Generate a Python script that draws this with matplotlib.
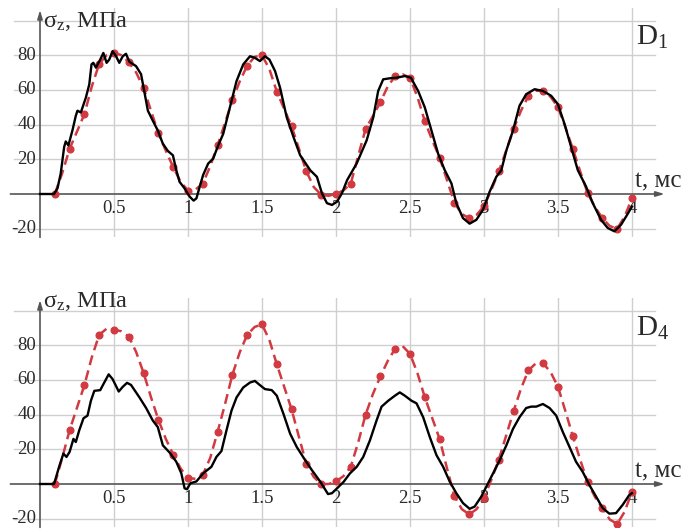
import matplotlib
matplotlib.use('Agg')
import matplotlib.pyplot as plt

plt.rcParams['font.family'] = ['Liberation Serif', 'DejaVu Serif']
plt.rcParams['mathtext.fontset'] = 'custom'
plt.rcParams['mathtext.rm'] = 'Liberation Serif'
plt.rcParams['mathtext.it'] = 'Liberation Serif:italic'

# ---------------- data ----------------
t_red = [0.10, 0.15, 0.20, 0.25, 0.30, 0.35, 0.40, 0.45, 0.50, 0.55,
         0.60, 0.65, 0.70, 0.75, 0.80, 0.85, 0.90, 0.95, 1.00, 1.05,
         1.10, 1.15, 1.20, 1.25, 1.30, 1.35, 1.40, 1.45, 1.50, 1.55,
         1.60, 1.65, 1.70, 1.75, 1.80, 1.85, 1.90, 1.95, 2.00, 2.05,
         2.10, 2.15, 2.20, 2.25, 2.30, 2.35, 2.40, 2.45, 2.50, 2.55,
         2.60, 2.65, 2.70, 2.75, 2.80, 2.85, 2.90, 2.95, 3.00, 3.05,
         3.10, 3.15, 3.20, 3.25, 3.30, 3.35, 3.40, 3.45, 3.50, 3.55,
         3.60, 3.65, 3.70, 3.75, 3.80, 3.85, 3.90, 3.95, 4.00]

red_D1 = [0, 12, 26, 36, 46, 62, 75, 80, 81.5, 80,
          76, 70, 61, 48, 35, 25, 15.5, 7, 2, 2.5,
          6, 16, 28, 41, 54, 65, 74, 79, 80, 72,
          59, 49, 39, 26, 13, 4, -0.5, -1, 0, 2,
          6, 22, 37.5, 45, 53, 62, 68, 69, 67, 56,
          42, 31, 21, 8, -5, -11.5, -14, -12, -7, 2.5,
          13, 25, 37.5, 48, 56.5, 59.5, 59.5, 56, 50, 38.5,
          26, 13, 0.5, -7.5, -14, -18.5, -20, -13, -2.5]

red_D4 = [0, 15, 31, 44, 57, 73, 86, 89.5, 89, 88,
          85, 76, 64, 50, 37, 26, 17, 9, 3.4, 3,
          5.3, 15, 30, 46, 63, 76, 86, 90.5, 92, 83,
          69, 56, 43, 27, 11.5, 4, 0, 0, 1.5, 4.5,
          10, 24, 40, 52, 62, 71, 78, 79.5, 75, 64,
          50, 38, 26, 9, -7, -14.5, -17.5, -14.5, -8, 2.5,
          14, 28, 42, 55, 65.5, 69.5, 69.5, 64.5, 56, 42,
          27.6, 14, 1, -7.5, -14, -20.5, -23, -16, -4.4]

t_blk_D1 = [0, 0.095, 0.118, 0.14, 0.163, 0.174, 0.192, 0.219, 0.242, 0.253,
            0.276, 0.31, 0.333, 0.348, 0.36, 0.378, 0.407, 0.428, 0.45, 0.468,
            0.491, 0.514, 0.536, 0.559, 0.581, 0.604, 0.649, 0.683, 0.706, 0.729,
            0.762, 0.796, 0.83, 0.864, 0.898, 0.921, 0.943, 0.977, 1.011, 1.038,
            1.057, 1.079, 1.102, 1.136, 1.17, 1.204, 1.238, 1.283, 1.328, 1.373,
            1.419, 1.452, 1.486, 1.52, 1.55, 1.588, 1.622, 1.667, 1.713, 1.758,
            1.826, 1.871, 1.905, 1.939, 1.973, 2.007, 2.04, 2.075, 2.139, 2.207,
            2.252, 2.285, 2.319, 2.364, 2.409, 2.465, 2.506, 2.555, 2.6, 2.645,
            2.69, 2.735, 2.78, 2.813, 2.858, 2.903, 2.948, 2.993, 3.038, 3.083,
            3.117, 3.151, 3.196, 3.24, 3.285, 3.342, 3.398, 3.454, 3.499, 3.544,
            3.589, 3.634, 3.69, 3.735, 3.791, 3.836, 3.881, 3.926, 3.96, 4.0]
y_blk_D1 = [0, 0, 3.2, 11.8, 27, 30.3, 28, 36.6, 45.1, 48,
            47, 55.6, 63.2, 74.7, 75.6, 72.8, 77.5, 81.3, 75.6, 77.5,
            82.3, 79.4, 75.6, 79.4, 80.8, 76.2, 73.7, 69, 58.5, 48,
            42.3, 36.6, 29, 24.8, 22.3, 13.7, 7, 3.2, -1.5, -3.8,
            -2.5, 4.2, 10.9, 17.5, 20.4, 28, 34.7, 49.9, 65.1, 74.7,
            79.4, 78.5, 76.6, 79.4, 77.5, 70.9, 61.3, 44.2, 32.8, 22.3,
            13.7, 9.9, 0.4, -5.3, -6.3, -4.4, 0.4, 8, 17.5, 30.9,
            44.2, 59.4, 66.1, 66.7, 67, 68, 67, 59.4, 49.9, 36.6,
            23.2, 13.7, 6.1, -5.3, -13.9, -17.1, -14.9, -9.1, 1.3, 9.9,
            13.7, 25.1, 36.6, 50.9, 57.5, 60.4, 59.4, 56.6, 51.8, 40.4,
            27, 13.7, 4.2, -5.3, -14.9, -19.6, -21.5, -17.7, -13, -7.2]

t_blk_D4 = [0, 0.095, 0.129, 0.158, 0.179, 0.2, 0.226, 0.242, 0.265, 0.294,
            0.321, 0.344, 0.367, 0.407, 0.428, 0.464, 0.491, 0.532, 0.559, 0.588,
            0.615, 0.672, 0.717, 0.762, 0.796, 0.83, 0.876, 0.921, 0.955, 0.977,
            0.993, 1.016, 1.057, 1.102, 1.158, 1.192, 1.226, 1.26, 1.294, 1.328,
            1.373, 1.419, 1.452, 1.486, 1.52, 1.566, 1.6, 1.645, 1.69, 1.735,
            1.792, 1.837, 1.894, 1.946, 1.973, 2.007, 2.052, 2.094, 2.14, 2.184,
            2.229, 2.274, 2.308, 2.353, 2.398, 2.431, 2.465, 2.51, 2.544, 2.589,
            2.634, 2.679, 2.724, 2.769, 2.813, 2.858, 2.903, 2.937, 2.982, 3.016,
            3.061, 3.106, 3.151, 3.196, 3.24, 3.285, 3.319, 3.353, 3.398, 3.443,
            3.488, 3.533, 3.578, 3.622, 3.667, 3.712, 3.757, 3.802, 3.847, 3.892,
            3.937, 3.982, 4.0]
y_blk_D4 = [0, 0, 9.9, 17.5, 15.6, 18.5, 26, 24.2, 30.9, 37.9,
            39.4, 48, 53.7, 54.1, 57.5, 63.2, 60.4, 53.3, 56, 58.3,
            57.1, 49.9, 43.8, 36.6, 32.8, 22.3, 18.1, 12.8, 6.1, -2.5,
            -3, 0.4, 1.5, 6.1, 9.9, 15.6, 19, 30.9, 42.3, 49.9,
            55.6, 58.5, 59.4, 57, 54.7, 54.1, 50.9, 40.4, 29, 21.3,
            13.7, 8, 1.3, -5.8, -5.3, -2.5, 1.3, 6.1, 9.9, 15.6,
            25.1, 36.6, 44.6, 48, 50.9, 52.8, 50.9, 48, 46.5, 38.5,
            27, 16.6, 9.9, 1.3, -5.3, -11, -14.3, -13, -7.2, -1.5,
            6.1, 13.7, 22.3, 31.8, 38.5, 43.8, 44.6, 44.6, 46.1, 43.8,
            39.4, 29.9, 21.3, 12.8, 7, -0.6, -7.2, -13.9, -17.1, -16.8,
            -12, -6.3, -5.3]

x_ticks = [0.5, 1, 1.5, 2, 2.5, 3, 3.5, 4]
x_tick_labels = ['0.5', '1', '1.5', '2', '2.5', '3', '3.5', '4']
y_ticks = [-20, 20, 40, 60, 80]
y_grid = [-20, 20, 40, 60, 80, 100]
panel_names = ['D', 'D']
panel_subs = ['1', '4']

# ---------------- figure ----------------
W, H = 683, 531
fig = plt.figure(figsize=(W / 100, H / 100), dpi=100)

XMIN, XMAX = -0.22, 4.22
YMIN, YMAX = -25, 107
px_per_x = 148.0
px_per_y = 1.735
x0_px = 40
def axes_rect(y0_px):
    left = x0_px + XMIN * px_per_x
    right = x0_px + XMAX * px_per_x
    top = y0_px - YMAX * px_per_y
    bottom = y0_px - YMIN * px_per_y
    return [left / W, 1 - bottom / H, (right - left) / W, (bottom - top) / H]

red = '#d13a40'
axis_col = '#555555'
grid_col = '#cfcfcf'
text_col = '#2a2a2a'

panels = [
    (194, red_D1, t_blk_D1, y_blk_D1, 96.5, 85.9),
    (484, red_D4, t_blk_D4, y_blk_D4, 102.3, 85.3),
]

for i, (y0, red_y, tb, yb, lab_y, d_y) in enumerate(panels):
    ax = fig.add_axes(axes_rect(y0))
    ax.set_xlim(XMIN, XMAX)
    ax.set_ylim(YMIN, YMAX)
    for s in ax.spines.values():
        s.set_visible(False)
    ax.set_xticks([])
    ax.set_yticks([])
    for gy in y_grid:
        ax.axhline(gy, xmin=0.01, xmax=0.985, color=grid_col, lw=1.0, zorder=0)
    for gx in x_ticks:
        ax.axvline(gx, color=grid_col, lw=1.0, zorder=0)
    ax.annotate('', xy=(XMAX, 0), xytext=(-0.2, 0),
                arrowprops=dict(arrowstyle='-|>,head_length=0.5,head_width=0.15',
                                color=axis_col, lw=1.2, shrinkA=0, shrinkB=0),
                annotation_clip=False, zorder=1)
    ax.annotate('', xy=(0, 106), xytext=(0, YMIN),
                arrowprops=dict(arrowstyle='-|>,head_length=0.5,head_width=0.15',
                                color=axis_col, lw=1.2, shrinkA=0, shrinkB=0),
                annotation_clip=False, zorder=1)
    for v in y_ticks:
        ax.text(-0.025, v, str(v), ha='right', va='center', fontsize=13.5,
                color=text_col)
    for v, l in zip(x_ticks, x_tick_labels):
        ax.text(v, -8.5, l, ha='center', va='center', fontsize=13.5,
                color=text_col)
    ax.plot(t_red, red_y, color=red, lw=1.8, ls=(0, (4, 2.2)),
            marker='o', markersize=4.8, markevery=2, zorder=3)
    ax.plot(tb, yb, color='black', lw=1.7, zorder=4)
    ax.text(0.02, lab_y, 'σ$_{\\mathregular{z}}$, МПа', ha='left', va='baseline',
            fontsize=17.5, color=text_col, clip_on=False)
    ax.text(4.025, d_y, panel_names[i] + '$_{\\mathregular{' + panel_subs[i] + '}}$',
            ha='left', va='baseline', fontsize=21, color=text_col, clip_on=False)
    ax.text(4.02, 3.8, 't, мс', ha='left', va='baseline', fontsize=18,
            color=text_col, clip_on=False)

fig.savefig('out.png', dpi=100, facecolor='white')
